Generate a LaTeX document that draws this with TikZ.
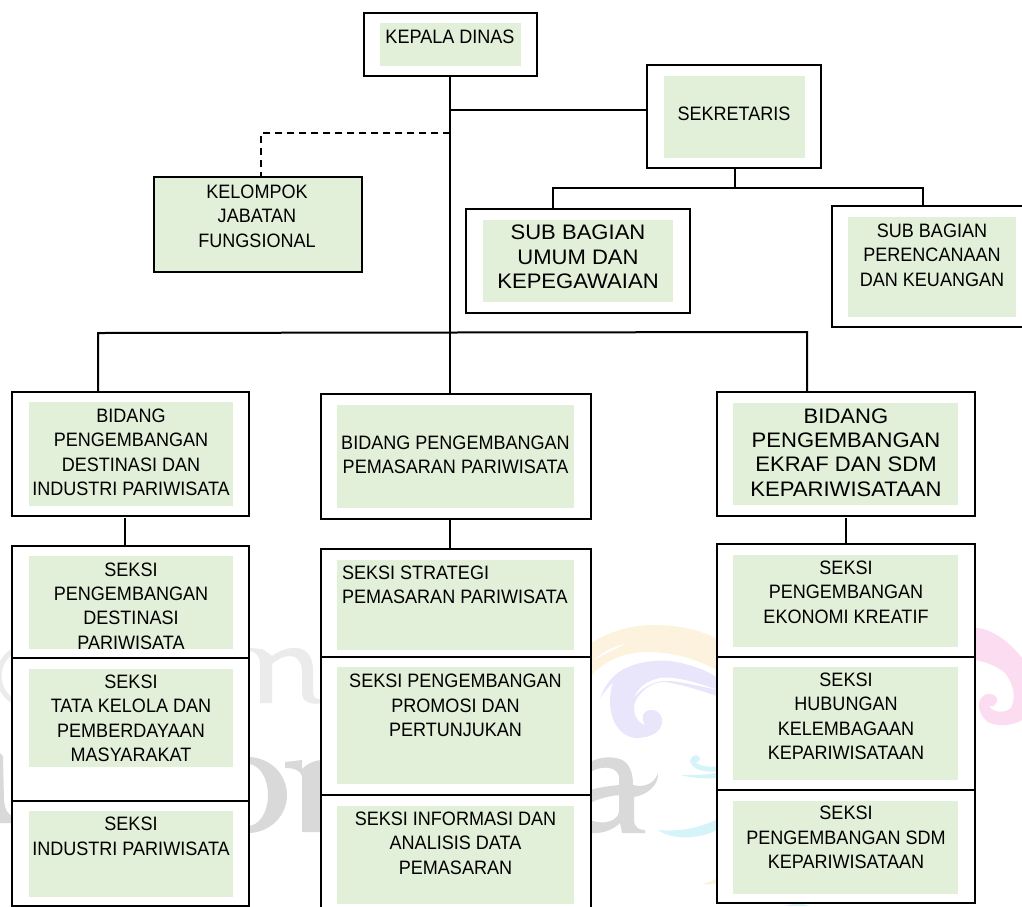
\documentclass[tikz,border=0pt]{standalone}
\usepackage{fontspec}
\usetikzlibrary{fit}
\newfontfamily\narrowfont[FakeStretch=0.93]{Liberation Sans}
\newfontfamily\plainfont[FakeStretch=1.05]{Liberation Sans}
\definecolor{boxgreen}{HTML}{E2EFD9}
\definecolor{wmgrey}{HTML}{D9D9D9}
\definecolor{wmlight}{HTML}{EBEBEB}
\definecolor{wmyellow}{HTML}{FDF2DE}
\definecolor{wmlav}{HTML}{E9E5FA}
\definecolor{wmpink}{HTML}{FCDCF0}
\definecolor{wmcyan}{HTML}{D4F4FA}
\tikzset{
  outerbox/.style={draw=black,line width=2pt,fill=white,inner sep=0pt,outer sep=0pt},
  filledbox/.style={draw=black,line width=2pt,fill=boxgreen,inner sep=0pt,outer sep=0pt},
  innerbox/.style={fill=boxgreen,inner sep=0pt,outer sep=0pt},
  conn/.style={draw=black,line width=2pt},
  thinconn/.style={draw=black,line width=1.3pt},
  label/.style={inner sep=0pt,outer sep=0pt,align=center,text=black,
    font=\narrowfont\fontsize{19.4}{24.4}\selectfont},
  biglabel/.style={inner sep=0pt,outer sep=0pt,align=center,text=black,
    font=\plainfont\fontsize{21}{24.4}\selectfont},
}
% name, outer x1,y1,x2,y2, inner x1,y1,x2,y2
\newcommand\orgbox[9]{%
  \node[outerbox,fit={(#2,#3) (#4,#5)}] (#1) {};
  \node[innerbox,fit={(#6,#7) (#8,#9)}] (#1in) {};
}
\begin{document}
\begin{tikzpicture}[x=1pt,y=-1pt]
\useasboundingbox (0,0) rectangle (1022,906);
\clip (0,0) rectangle (1022,906);
\fill[white] (0,0) rectangle (1022,906);

% watermark: grey letter fragments
\draw[wmlight,line width=5pt] (25,676) ellipse (26 and 28);
\fill[wmlight] (250,648) -- (262,649) .. controls (264,650) and (266,651) .. (272,656)
  .. controls (280,650) and (290,647) .. (298,648) .. controls (308,650) and (313,658) .. (313,670)
  -- (313,692) .. controls (313,698) and (317,700) .. (322,699) -- (322,703)
  .. controls (310,705) and (302,702) .. (302,692) -- (302,672)
  .. controls (302,660) and (295,655) .. (288,656) .. controls (282,657) and (276,660) .. (272,664)
  -- (272,703) -- (260,703) -- (260,664) .. controls (260,656) and (256,652) .. (250,651) -- cycle;
\fill[wmgrey,even odd rule] (248,795) ellipse (39 and 38) (248,795) ellipse (20 and 31);
\fill[wmgrey] (285,762) -- (302,760) -- (302,769) .. controls (308,763) and (316,760) .. (322,760)
  -- (322,832) -- (302,832) -- (302,776) .. controls (300,770) and (294,768) .. (285,768) -- cycle;
\fill[wmgrey] (0,753) -- (3,756) -- (4,800) .. controls (5,810) and (8,815) .. (13,816)
  -- (13,823) -- (0,823) -- cycle;
\fill[wmgrey] (590,762) .. controls (600,757) and (610,756) .. (620,759)
  .. controls (628,762) and (633,770) .. (633,785)
  .. controls (645,788) and (655,783) .. (658,773)
  .. controls (659,785) and (647,795) .. (634,797)
  -- (634,820) .. controls (634,828) and (640,830) .. (645,830) -- (645,833) -- (622,833) -- (620,823)
  .. controls (612,831) and (600,834) .. (590,833) -- (590,820)
  .. controls (605,826) and (618,820) .. (619,812) -- (619,795)
  .. controls (610,796) and (600,798) .. (590,803) -- (590,790)
  .. controls (600,787) and (610,786) .. (619,785) -- (619,776)
  .. controls (617,768) and (605,764) .. (590,772) -- cycle;

% watermark: swirls
\fill[wmyellow] (590,644) .. controls (610,630) and (635,625) .. (653,625)
  .. controls (680,625) and (700,630) .. (720,640) -- (720,672)
  .. controls (700,660) and (675,652) .. (647,652)
  .. controls (625,652) and (605,660) .. (590,677) -- cycle;
\fill[white] (594,660) .. controls (605,650) and (615,646) .. (625,644)
  .. controls (615,649) and (605,654) .. (594,660) -- cycle;
\fill[wmlav] (600,698) .. controls (605,685) and (612,676) .. (622,670)
  .. controls (640,660) and (665,658) .. (685,664)
  .. controls (700,668) and (710,672) .. (720,680) -- (720,697)
  .. controls (705,692) and (685,685) .. (665,682)
  .. controls (650,682) and (640,692) .. (635,702)
  .. controls (632,712) and (636,722) .. (645,725)
  .. controls (640,716) and (644,710) .. (651,710)
  .. controls (659,710) and (663,716) .. (662,723)
  .. controls (660,733) and (650,738) .. (635,738)
  .. controls (620,736) and (611,722) .. (610,703)
  .. controls (610,695) and (611,688) .. (613,682)
  .. controls (608,688) and (604,692) .. (600,698) -- cycle;
\fill[white] (634,697) .. controls (640,685) and (650,680) .. (660,678)
  .. controls (675,676) and (695,682) .. (718,690)
  .. controls (695,685) and (675,680) .. (662,681)
  .. controls (650,683) and (642,688) .. (634,697) -- cycle;
\fill[wmcyan] (690,761) .. controls (691,755) and (698,753) .. (700,758)
  .. controls (700,762) and (696,763) .. (695,761)
  .. controls (698,766) and (708,768) .. (720,766) -- (720,771)
  .. controls (705,773) and (692,770) .. (690,761) -- cycle;
\fill[wmcyan] (680,775) .. controls (695,775) and (708,775) .. (720,772) -- (720,778)
  .. controls (705,779) and (692,778) .. (680,775) -- cycle;
\fill[wmcyan] (658,830) .. controls (680,832) and (700,828) .. (720,818) -- (720,828)
  .. controls (705,838) and (675,842) .. (658,830) -- cycle;
\fill[wmyellow] (702,884) .. controls (710,882) and (715,880) .. (720,876) -- (720,882)
  .. controls (715,884) and (708,885) .. (702,884) -- cycle;
\fill[wmcyan] (785,906) .. controls (795,903) and (802,903) .. (810,906) -- cycle;
\fill[wmpink] (975,628) .. controls (990,628) and (1008,640) .. (1022,658) -- (1022,720)
  .. controls (1012,726) and (998,727) .. (988,722)
  .. controls (980,716) and (977,706) .. (980,700)
  .. controls (984,692) and (994,692) .. (997,698)
  .. controls (998,704) and (993,708) .. (989,706)
  .. controls (992,712) and (1004,714) .. (1011,708)
  .. controls (1016,698) and (1014,684) .. (1005,673)
  .. controls (997,666) and (986,662) .. (975,660) -- cycle;

% boxes
\orgbox{kep}{363.5}{12.5}{537}{76}{380}{23}{521}{66}
\orgbox{sek}{647}{65}{821}{168}{664}{76}{805}{158}
\node[filledbox,fit={(154,177) (362,272)}] (kel) {};
\orgbox{umum}{466}{209}{690}{313}{483}{220}{673}{302}
\orgbox{ren}{832}{206}{1040}{327}{848}{217}{1016}{317}
\orgbox{bida}{12}{392}{249}{516}{29}{402}{233}{506}
\orgbox{seka}{12}{546}{249}{658}{29}{556}{233}{649}
\orgbox{sekb}{12}{658}{249}{801}{29}{669}{233}{767}
\orgbox{sekc}{12}{801}{249}{906.3}{29}{811}{233}{897}
\orgbox{bidb}{321}{394}{591}{519}{337}{405}{574}{508}
\orgbox{sekd}{321}{549}{591}{657}{337}{560}{574}{650}
\orgbox{seke}{321}{657}{591}{795}{337}{667}{574}{784}
\orgbox{sekf}{321}{795}{591}{925}{337}{806}{574}{904}
\orgbox{bidc}{717}{392}{975}{516}{733}{403}{958}{505}
\orgbox{sekg}{717}{544}{975}{657}{733}{555}{958}{647}
\orgbox{sekh}{717}{657}{975}{790}{733}{667}{958}{780}
\orgbox{seki}{717}{790}{975}{903}{733}{801}{958}{894}

% labels
\node[label] (tkep) at (450,36.5) {KEPALA DINAS};
\node[label] (tsek) at (734,113.5) {SEKRETARIS};
\node[label] (tkel) at (257,216) {KELOMPOK\\JABATAN\\FUNGSIONAL};
\node[biglabel] (tumum) at (578,257) {SUB BAGIAN\\UMUM DAN\\KEPEGAWAIAN};
\node[label] (tren) at (932,255) {SUB BAGIAN\\PERENCANAAN\\DAN KEUANGAN};
\node[label] (tbida) at (131,452.5) {BIDANG\\PENGEMBANGAN\\DESTINASI DAN\\INDUSTRI PARIWISATA};
\begin{scope}
  \clip (29,556) rectangle (233,649);
  \node[label] (tseka) at (131,606) {SEKSI\\PENGEMBANGAN\\DESTINASI\\PARIWISATA};
\end{scope}
\node[label] (tsekb) at (131,718.5) {SEKSI\\TATA KELOLA DAN\\PEMBERDAYAAN\\MASYARAKAT};
\node[label] (tsekc) at (131,836.5) {SEKSI\\INDUSTRI PARIWISATA};
\node[label] (tbidb) at (455.5,455) {BIDANG PENGEMBANGAN\\PEMASARAN PARIWISATA};
\node[label,align=left,anchor=west] (tsekd) at (342,585) {SEKSI STRATEGI\\PEMASARAN PARIWISATA};
\node[label] (tseke) at (455.5,705.5) {SEKSI PENGEMBANGAN\\PROMOSI DAN\\PERTUNJUKAN};
\node[label] (tsekf) at (455.5,843) {SEKSI INFORMASI DAN\\ANALISIS DATA\\PEMASARAN};
\node[biglabel] (tbidc) at (846,452.5) {BIDANG\\PENGEMBANGAN\\EKRAF DAN SDM\\KEPARIWISATAAN};
\node[label] (tsekg) at (846,592) {SEKSI\\PENGEMBANGAN\\EKONOMI KREATIF};
\node[label] (tsekh) at (846,716.5) {SEKSI\\HUBUNGAN\\KELEMBAGAAN\\KEPARIWISATAAN};
\node[label] (tseki) at (846,837.5) {SEKSI\\PENGEMBANGAN SDM\\KEPARIWISATAAN};

% junctions
\coordinate (jsek) at (450.25,110);
\coordinate (jdash) at (450.25,133);
\coordinate (kelin) at (261,177);
\coordinate (jmain) at (450.25,332.5);
\coordinate (jleft) at (98,333);
\coordinate (jright) at (807,332);
\coordinate (jsub) at (735,188);
\coordinate (jumum) at (553,188);
\coordinate (jren) at (923,188);
\coordinate (jcola) at (125,518);
\coordinate (jcolb) at (450,519);
\coordinate (jcolc) at (846,518);

% connectors
\draw[conn] (kep.south) -- (jmain) -- (jmain |- bidb.north);
\draw[conn] (jsek) -- (jsek -| sek.west);
\draw[conn,dashed,dash pattern=on 7pt off 5pt] (jdash) -| (kelin);
\draw[conn] (jmain) -- (jleft) -- (jleft |- bida.north);
\draw[conn] (jmain) -- (jright) -- (jright |- bidc.north);
\draw[conn] (jsub |- sek.south) -- (jsub);
\draw[conn] (jumum |- umum.north) -- (jumum) -- (jren) -- (jren |- ren.north);
\draw[thinconn] (jcola) -- (jcola |- seka.north);
\draw[thinconn] (jcolb) -- (jcolb |- sekd.north);
\draw[thinconn] (jcolc) -- (jcolc |- sekg.north);
\end{tikzpicture}
\end{document}
